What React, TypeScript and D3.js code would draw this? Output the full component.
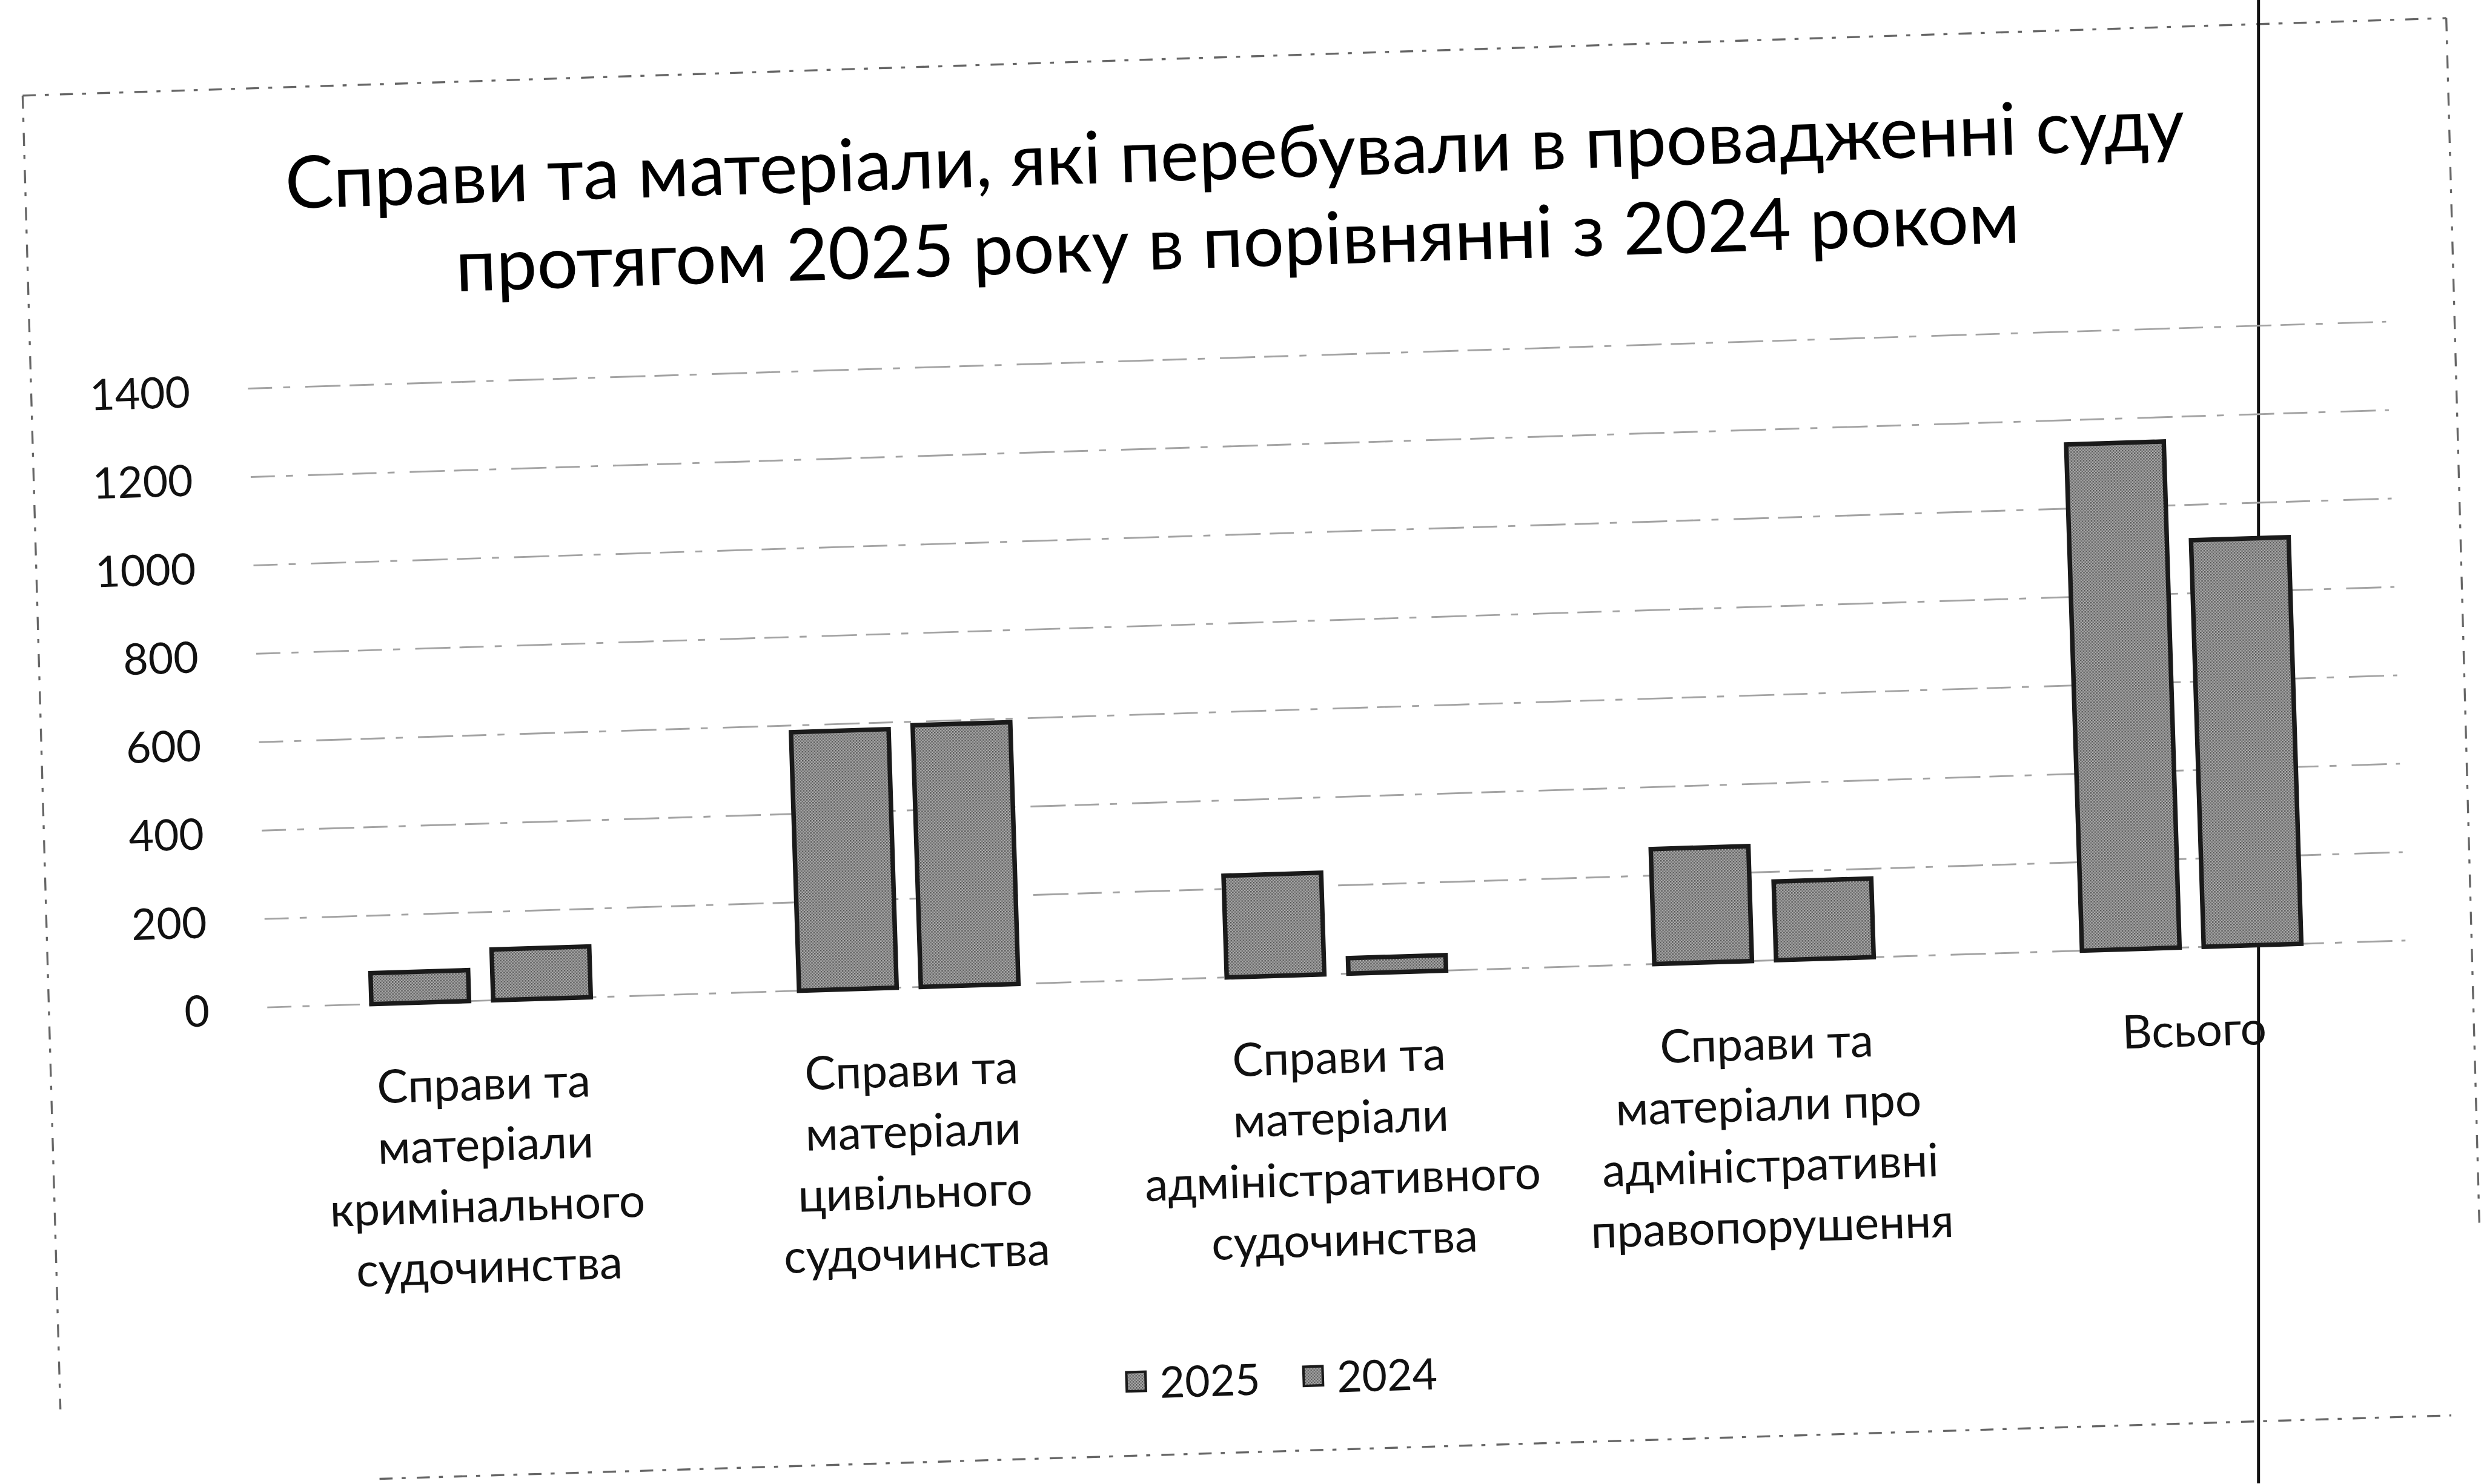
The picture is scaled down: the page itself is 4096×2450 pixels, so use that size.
import React from "react";
import * as d3 from "d3";

// ---- data ----
const categories: string[] = [
  "Справи та\nматеріали\nкримінального\nсудочинства",
  "Справи та\nматеріали\nцивільного\nсудочинства",
  "Справи та\nматеріали\nадміністративного\nсудочинства",
  "Справи та\nматеріали про\nадміністративні\nправопорушення",
  "Всього",
];
const seriesNames: string[] = ["2025", "2024"];
const values2025: number[] = [70, 585, 230, 260, 1145];
const values2024: number[] = [115, 592, 35, 178, 920];
const yTicks: number[] = [0, 200, 400, 600, 800, 1000, 1200, 1400];
const titleLines: string[] = [
  "Справи та матеріали, які перебували в провадженні суду",
  "протягом 2025 року в порівнянні з 2024 роком",
];

const FONT = "Lato, Carlito, Calibri, sans-serif";

export default function App() {
  const W = 4096;
  const H = 2450;
  const S = 0.831;
  // chart drawn in reference pixel units, unrotated frame
  const angle = -1.79;
  const pivotX = 574;
  const pivotY = 2000;

  const x = d3
    .scaleBand<number>()
    .domain(d3.range(categories.length))
    .range([531, 4781])
    .padding(0);
  const y = d3.scaleLinear().domain([0, 1400]).range([2000, 770]);

  const barW = 194;
  const gap = 48;
  const series = [values2025, values2024];
  const barX = (i: number, s: number) => {
    const c = (x(i) as number) + x.bandwidth() / 2;
    return s === 0 ? c - gap / 2 - barW : c + gap / 2;
  };

  const barStroke = "#1a1a1a";
  const gridColor = "#a3a3a3";

  const catFont = 92;
  const tickFont = 86;
  const titleFont = 144;
  const lineH = 121;

  return (
    <svg
      width={W}
      height={H}
      style={{ position: "absolute", left: 0, top: 0, background: "#fff" }}
    >
      <defs>
        <pattern id="dither" width="6" height="6" patternUnits="userSpaceOnUse">
          <rect width="6" height="6" fill="#b0b0b0" />
          <rect width="3" height="3" fill="#555" />
          <rect x="3" y="3" width="3" height="3" fill="#6a6a6a" />
        </pattern>
      </defs>
      <rect width={W} height={H} fill="#fff" />
      <g transform={`scale(${S})`}>
        {/* scanned page frame (decorative) */}
        <g fill="none" stroke="#666" strokeWidth={4} strokeDasharray="26 18 8 22">
          <line x1={45} y1={190} x2={4860} y2={36} />
          <line x1={45} y1={190} x2={120} y2={2800} />
          <line x1={754} y1={2938} x2={4870} y2={2812} />
          <line x1={4860} y1={36} x2={4926} y2={2440} />
        </g>
        <line x1={4487} y1={0} x2={4487} y2={2947} stroke="#111" strokeWidth={6} />

        <g transform={`rotate(${angle}, ${pivotX}, ${pivotY})`}>
          {/* title */}
          <g fontFamily={FONT} fontSize={titleFont} fill="#000" textAnchor="middle">
            {titleLines.map((t, i) => (
              <text key={i} x={2505} y={359 + i * 175} dominantBaseline="central">
                {t}
              </text>
            ))}
          </g>

          {/* gridlines */}
          <g stroke={gridColor} strokeWidth={3.5} strokeDasharray="48 22 14 30 70 18">
            {yTicks.map((t) => (
              <line key={t} x1={531} x2={4781} y1={y(t)} y2={y(t)} />
            ))}
          </g>

          {/* y tick labels */}
          <g fontFamily={FONT} fontSize={tickFont} fill="#111" textAnchor="end">
            {yTicks.map((t) => (
              <text key={t} x={416} y={y(t)} dominantBaseline="central">
                {t}
              </text>
            ))}
          </g>

          {/* bars */}
          {series.map((vals, s) =>
            vals.map((v, i) => (
              <rect
                key={`${s}-${i}`}
                x={barX(i, s)}
                y={y(v)}
                width={barW}
                height={y(0) - y(v)}
                fill="url(#dither)"
                stroke={barStroke}
                strokeWidth={9}
              />
            ))
          )}

          {/* category labels */}
          <g fontFamily={FONT} fontSize={catFont} fill="#111" textAnchor="middle">
            {categories.map((c, i) => (
              <text key={i} dominantBaseline="central">
                {c.split("\n").map((ln, j) => (
                  <tspan
                    key={j}
                    x={(x(i) as number) + x.bandwidth() / 2}
                    y={2161 + j * lineH}
                  >
                    {ln}
                  </tspan>
                ))}
              </text>
            ))}
          </g>

          {/* legend */}
          <g fontFamily={FONT} fontSize={tickFont} fill="#111">
            {seriesNames.map((n, k) => {
              const lx = 2214 + k * 352;
              return (
                <g key={n}>
                  <rect
                    x={lx}
                    y={2797 - 19}
                    width={38}
                    height={38}
                    fill="url(#dither)"
                    stroke={barStroke}
                    strokeWidth={5}
                  />
                  <text x={lx + 66} y={2797} dominantBaseline="central">
                    {n}
                  </text>
                </g>
              );
            })}
          </g>
        </g>
      </g>
    </svg>
  );
}
